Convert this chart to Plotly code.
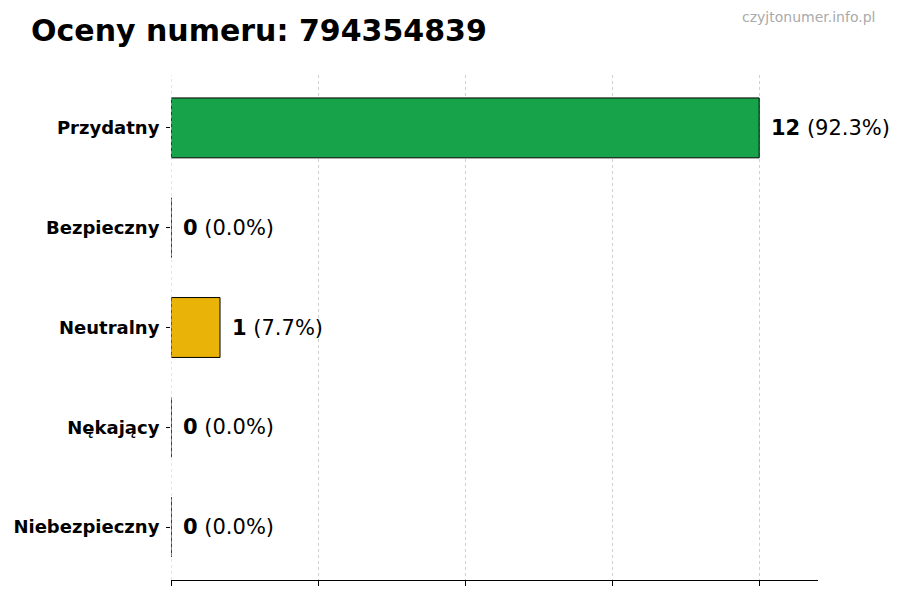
import plotly.graph_objects as go

categories = ["Przydatny", "Bezpieczny", "Neutralny", "Nękający", "Niebezpieczny"]
counts = [12, 0, 1, 0, 0]
colors = ["#16a34a", "#9ca3af", "#eab308", "#f97316", "#dc2626"]
phone = "794354839"
xticks = [0, 3, 6, 9, 12]

total = sum(counts)
font = "DejaVu Sans"

# page body adds an 8px offset, so work in shifted pixel space
W, H = 900, 600
ML, MR, MT, MB = 163, 90, 67, 28
pw, ph = W - ML - MR, H - MT - MB

fig = go.Figure()
fig.add_trace(go.Bar(
    x=counts,
    y=categories,
    orientation="h",
    width=0.6,
    marker=dict(color=colors, line=dict(color="black", width=1)),
    hoverinfo="skip",
))

for cat, c in zip(categories, counts):
    pct = 100 * c / total if total else 0
    fig.add_annotation(
        x=c, y=cat, xref="x", yref="y",
        text=f"<b>{c}</b> ({pct:.1f}%)",
        showarrow=False, xanchor="left", yanchor="middle",
        xshift=10,
        font=dict(family=font, size=21, color="black"),
    )

fig.add_annotation(
    x=(869 - ML) / pw, y=1 + (MT - 9) / ph, xref="paper", yref="paper",
    text="czyjtonumer.info.pl", showarrow=False,
    xanchor="right", yanchor="middle",
    font=dict(family=font, size=14, color="#aaaaaa"),
)

# dashed grid line at x = 0 (plotly skips the one on the range edge)
fig.add_shape(
    type="line", xref="x", yref="paper", x0=xticks[0], x1=xticks[0], y0=0, y1=1,
    line=dict(color="#d0d0d0", width=1, dash="3px,3px"), layer="above",
)

fig.update_layout(
    width=W, height=H,
    margin=dict(l=ML, r=MR, t=MT, b=MB, autoexpand=False),
    paper_bgcolor="white", plot_bgcolor="white",
    showlegend=False,
    title=dict(
        text=f"<b>Oceny numeru: {phone}</b>",
        x=23 / W, xanchor="left", xref="container",
        y=1 - 22 / H, yanchor="middle", yref="container",
        font=dict(family=font, size=30, color="black"),
    ),
    xaxis=dict(
        range=[0, 13.2],
        tickvals=xticks,
        showticklabels=False,
        ticks="outside", ticklen=5, tickcolor="black",
        showgrid=True, gridcolor="#d0d0d0", griddash="3px,3px", gridwidth=1,
        showline=True, linecolor="black", linewidth=1,
        zeroline=False, layer="above traces", automargin=False,
    ),
    yaxis=dict(
        categoryorder="array", categoryarray=categories[::-1],
        range=[-0.53, 4.53],
        ticks="outside", ticklen=4, tickcolor="black",
        ticklabelstandoff=3,
        showline=False, showgrid=False, zeroline=False, automargin=False,
        tickfont=dict(family=font, size=18, color="black", weight="bold"),
    ),
)

fig.write_html("out.html")
